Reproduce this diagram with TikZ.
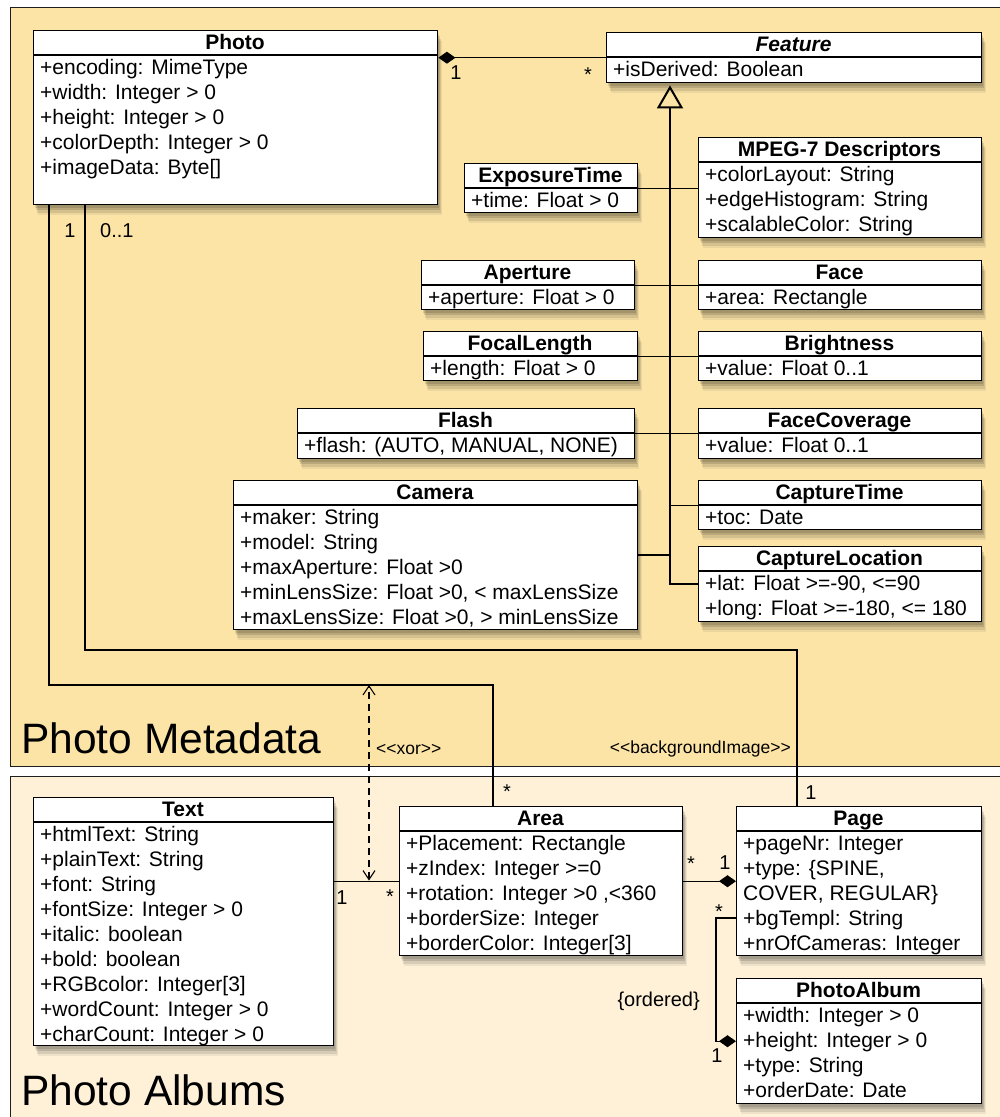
\documentclass[tikz,border=0pt]{standalone}
\usepackage{fontspec}
\setmainfont{Liberation Sans}[Ligatures=TeXOff]
\usetikzlibrary{arrows.meta,shadows}

\definecolor{metafill}{RGB}{252,228,167}
\definecolor{albumfill}{RGB}{254,241,216}
\definecolor{pkgline}{RGB}{30,30,30}

% One UML class: name, left, top, width, height, title, attribute rows
\newcommand\umlclass[7]{%
  \node[classbox, minimum width=#4pt, minimum height=#5pt, anchor=north west] (#1) at (#2,#3) {};
  \draw[classline] ([yshift=-25pt]#1.north west) -- ([yshift=-25pt]#1.north east);
  \node[classtitle] (#1-t) at (#2+#4/2,#3+19) {#6};
  \foreach \r [count=\i] in {#7} {\node[classrow] (#1-r\i) at (#2+7,#3+19+25*\i) {\r};}
}

\begin{document}
\begin{tikzpicture}[x=1pt,y=-1pt,
  package/.style={draw=pkgline, line width=1.2pt, inner sep=0, anchor=north west},
  softshadow/.style={
    general shadow={fill=black, opacity=0.12, shadow xshift=1.5pt, shadow yshift=-3pt},
    general shadow={fill=black, opacity=0.12, shadow xshift=2.5pt, shadow yshift=-5.5pt},
    general shadow={fill=black, opacity=0.10, shadow xshift=3.5pt, shadow yshift=-8pt},
    general shadow={fill=black, opacity=0.06, shadow xshift=4.5pt, shadow yshift=-10.5pt}},
  classbox/.style={draw=black, fill=white, line width=1.4pt, inner sep=0, softshadow},
  classline/.style={draw=black, line width=1.4pt},
  classtitle/.style={anchor=base, inner sep=0, font=\bfseries\fontsize{21}{25}\selectfont},
  classrow/.style={anchor=base west, inner sep=0, font=\fontsize{21}{25}\selectfont},
  assoc/.style={draw=black, line width=1.2pt},
  comp/.style={assoc, -{Diamond[length=17pt,width=12pt]}},
  genline/.style={draw=black, line width=2pt},
  gentip/.style={genline, -{Triangle[open, length=23pt, width=26pt, line width=2pt]}},
  xorline/.style={draw=black, line width=1.1pt, dash pattern=on 7pt off 5pt,
    {Straight Barb[length=9pt,width=12pt,line width=1.1pt]}-{Straight Barb[length=9pt,width=12pt,line width=1.1pt]}},
  mult/.style={anchor=base, inner sep=0, font=\fontsize{20}{24}\selectfont},
  stereo/.style={inner sep=0, font=\fontsize{17.5}{20}\selectfont},
  pkgname/.style={anchor=base west, inner sep=0, font=\fontsize{42.5}{48}\selectfont}]

\useasboundingbox (0,0) rectangle (1000,1117);
\fill[white] (0,0) rectangle (1000,1117);

% packages
\node[package, fill=metafill, minimum width=1000pt, minimum height=759pt] (metapkg) at (10,7) {};
\node[package, fill=albumfill, minimum width=1000pt, minimum height=360pt] (albumpkg) at (10,776) {};
\node[pkgname] (metaname) at (21,753) {Photo Metadata};
\node[pkgname] (albumname) at (21,1105) {Photo Albums};

% ---------- Photo Metadata ----------
\umlclass{photo}{33}{30}{404}{174}{Photo}{+encoding: MimeType,+width: Integer > 0,+height: Integer > 0,+colorDepth: Integer > 0,+imageData: Byte[]}
\umlclass{feature}{606}{32}{375}{50}{\textit{Feature}}{+isDerived: Boolean}
\umlclass{exposure}{464}{163}{173}{49}{ExposureTime}{+time: Float > 0}
\umlclass{mpeg}{698}{137}{283}{100}{MPEG-7 Descriptors}{+colorLayout: String,+edgeHistogram: String,+scalableColor: String}
\umlclass{aperture}{421}{260}{213}{49}{Aperture}{+aperture: Float > 0}
\umlclass{face}{698}{260}{283}{49}{Face}{+area: Rectangle}
\umlclass{focal}{423}{331}{214}{49}{FocalLength}{+length: Float > 0}
\umlclass{bright}{698}{331}{283}{49}{Brightness}{+value: Float 0..1}
\umlclass{flash}{297}{408}{337}{50}{Flash}{{+flash: (AUTO, MANUAL, NONE)}}
\umlclass{facecov}{698}{408}{283}{50}{FaceCoverage}{+value: Float 0..1}
\umlclass{camera}{233}{480}{404}{149}{Camera}{+maker: String,+model: String,+maxAperture: Float >0,{+minLensSize: Float >0, < maxLensSize},{+maxLensSize: Float >0, > minLensSize}}
\umlclass{captime}{698}{480}{283}{49}{CaptureTime}{+toc: Date}
\umlclass{caploc}{698}{546}{283}{75}{CaptureLocation}{{+lat: Float >=-90, <=90},{+long: Float >=-180, <= 180}}

% Photo owns its features
\draw[comp] (feature.west) -- (feature.west -| photo.east);
\node[mult] (m-photo-feat) at (456,79) {1};
\node[mult] (m-feat-photo) at (588,81) {*};

% generalization tree of Feature
\coordinate (spinebase) at ([xshift=-28pt]caploc.west);
\draw[gentip] (caploc.west) -- (spinebase) -- ([yshift=-2pt]spinebase |- feature.south);
\draw[assoc] (exposure.east) -- (exposure.east -| mpeg.west);
\draw[assoc] (aperture.east) -- (face.west);
\draw[assoc] (focal.east) -- (bright.west);
\draw[assoc] (flash.east) -- (facecov.west);
\draw[genline] (camera.east) -- (camera.east -| spinebase);
\draw[assoc] (captime.west) -- (captime.west -| spinebase);

% ---------- Photo Albums ----------
\umlclass{text}{33}{797}{300}{248}{Text}{+htmlText: String,+plainText: String,+font: String,+fontSize: Integer > 0,+italic: boolean,+bold: boolean,+RGBcolor: Integer[3],+wordCount: Integer > 0,+charCount: Integer > 0}
\umlclass{area}{399}{806}{283}{149}{Area}{+Placement: Rectangle,+zIndex: Integer >=0,{+rotation: Integer >0 ,<360},+borderSize: Integer,+borderColor: Integer[3]}
\umlclass{page}{736}{806}{245}{149}{Page}{+pageNr: Integer,{+type: \{SPINE,},{COVER, REGULAR\}},+bgTempl: String,+nrOfCameras: Integer}
\umlclass{album}{736}{978}{245}{125}{PhotoAlbum}{+width: Integer > 0,+height: Integer > 0,+type: String,+orderDate: Date}

% Photo as content of an area, or as background of a page
\coordinate (areabendA) at (49,685);
\coordinate (areabendB) at (493,685);
\coordinate (pagebendA) at (85,650);
\coordinate (pagebendB) at (797,650);
\draw[assoc] (photo.south -| areabendA) -- (areabendA) -- (areabendB) -- (areabendB |- area.north);
\draw[assoc] (photo.south -| pagebendA) -- (pagebendA) -- (pagebendB) -- (pagebendB |- page.north);
\node[mult] (m-photo-area) at (70,237) {1};
\node[mult, anchor=base west] (m-photo-page) at (100,237) {0..1};
\node[mult] (m-area-photo) at (507,798) {*};
\node[mult] (m-page-photo) at (811,799) {1};
\node[stereo, anchor=base east] (bgimage) at (791,753) {<<backgroundImage>>};

% Text in an area
\draw[assoc] (area.west) -- (area.west -| text.east);
\node[mult] (m-text-area) at (342,904) {1};
\node[mult] (m-area-text) at (390,903) {*};

% exclusive choice between the two contents of an area
\coordinate (xortop) at (369,685);
\coordinate (xorbot) at (369,880.5);
\draw[xorline] (xorbot) -- (xortop);
\node[stereo, anchor=base west] (xorlabel) at (376,754) {<<xor>>};

% Page owns its areas
\draw[comp] (area.east) -- (page.west);
\node[mult] (m-area-page) at (691,870) {*};
\node[mult] (m-page-area) at (725,869) {1};

% PhotoAlbum owns its ordered pages
\coordinate (albumbend) at (716,918);
\draw[comp] (page.west |- albumbend) -- (albumbend) |- (album.west);
\node[mult] (m-page-album) at (719,918) {*};
\node[mult] (m-album-page) at (717,1062) {1};
\node[mult, anchor=base east] (ordered) at (700,1006) {\{ordered\}};

\end{tikzpicture}
\end{document}
